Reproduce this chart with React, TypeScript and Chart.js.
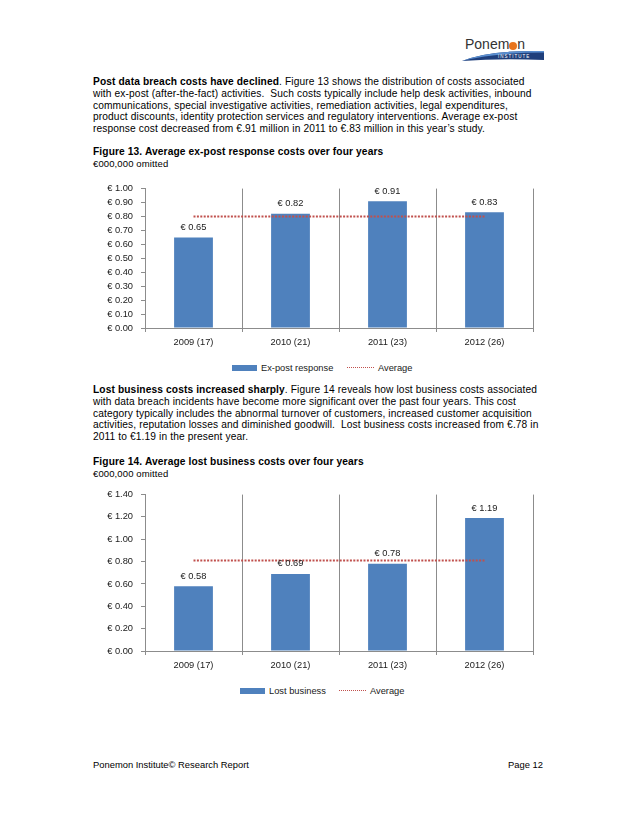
import React, { useEffect, useRef } from "react";
import { Chart, registerables } from "chart.js";

Chart.register(...registerables);

const categories = ["2009 (17)", "2010 (21)", "2011 (23)", "2012 (26)"];
const expostValues = [0.65, 0.82, 0.91, 0.83];
const expostAverage = [0.8, 0.8, 0.8, 0.8];
const lostValues = [0.58, 0.69, 0.78, 1.19];
const lostAverage = [0.81, 0.81, 0.81, 0.81];
const expostAxis = { max: 1.0, step: 0.1 };
const lostAxis = { max: 1.4, step: 0.2 };

const FONT = "'Liberation Sans', Arial, Helvetica, sans-serif";
const BAR = "#4F81BD";
const AVG = "#C0504D";
const GRID = "#8c8c8c";
const TXT = "#1a1a1a";

type ChartProps = {
  top: number;
  height: number;
  padTop: number;
  values: number[];
  average: number[];
  axis: { max: number; step: number };
  label: string;
};

function BarChart({ top, height, padTop, values, average, axis, label }: ChartProps) {
  const ref = useRef<HTMLCanvasElement>(null);
  useEffect(() => {
    if (!ref.current) return;
    const labelPlugin = {
      id: "valueLabels",
      afterDatasetsDraw(chart: any) {
        const ctx = chart.ctx;
        const meta = chart.getDatasetMeta(1);
        ctx.save();
        ctx.font = `9.3px ${FONT}`;
        ctx.fillStyle = TXT;
        ctx.textAlign = "center";
        ctx.textBaseline = "middle";
        meta.data.forEach((el: any, i: number) => {
          const v = chart.data.datasets[1].data[i] as number;
          ctx.fillText("€ " + v.toFixed(2), el.x, el.y - 10);
        });
        ctx.restore();
      },
    };
    const chart = new Chart(ref.current, {
      type: "bar",
      data: {
        labels: categories,
        datasets: [
          {
            type: "line",
            label: "Average",
            data: average,
            borderColor: AVG,
            borderWidth: 2,
            borderDash: [2, 1.4],
            pointRadius: 0,
            fill: false,
            order: 0,
          } as any,
          {
            type: "bar",
            label,
            data: values,
            backgroundColor: BAR,
            barPercentage: 0.4,
            categoryPercentage: 1,
            order: 1,
          },
        ],
      },
      options: {
        animation: false,
        responsive: true,
        maintainAspectRatio: false,
        layout: { padding: { top: padTop, right: 7, left: 0, bottom: 0 } },
        plugins: {
          legend: { display: false },
          tooltip: { enabled: false },
        },
        scales: {
          x: {
            afterFit: (s: any) => {
              s.height = 25;
            },
            grid: {
              display: true,
              drawOnChartArea: true,
              drawTicks: true,
              tickLength: 4,
              offset: true,
              color: GRID,
              lineWidth: 1,
            },
            border: { display: true, color: GRID, width: 1 },
            ticks: {
              color: TXT,
              font: { family: FONT, size: 9.3 },
              padding: 5,
              autoSkip: false,
            },
          },
          y: {
            min: 0,
            max: axis.max,
            afterFit: (s: any) => {
              s.width = 55;
            },
            grid: {
              display: true,
              drawOnChartArea: false,
              drawTicks: true,
              tickLength: 4,
              color: GRID,
            },
            border: { display: true, color: GRID, width: 1 },
            ticks: {
              stepSize: axis.step,
              autoSkip: false,
              color: TXT,
              font: { family: FONT, size: 9.3 },
              padding: 8,
              callback: (v: any) => "€ " + Number(v).toFixed(2),
            },
          },
        },
      },
      plugins: [labelPlugin],
    });
    return () => chart.destroy();
  }, []);
  return (
    <div style={{ position: "absolute", left: 90, top, width: 450, height }}>
      <canvas ref={ref} />
    </div>
  );
}

function Legend({ top, boxLeft, textLeft, dotLeft, avgLeft, label }: any) {
  return (
    <>
      <div style={{ position: "absolute", left: boxLeft, top: top - 3, width: 25, height: 6, background: BAR }} />
      <div style={{ position: "absolute", left: textLeft, top: top - 6, fontSize: 9.3, lineHeight: "12px", color: TXT, whiteSpace: "nowrap" }}>{label}</div>
      <div style={{ position: "absolute", left: dotLeft, top: top - 1, width: 27, height: 0, borderTop: `1.5px dotted ${AVG}` }} />
      <div style={{ position: "absolute", left: avgLeft, top: top - 6, fontSize: 9.3, lineHeight: "12px", color: TXT, whiteSpace: "nowrap" }}>Average</div>
    </>
  );
}

const textStyle: React.CSSProperties = {
  position: "absolute",
  left: 93,
  fontSize: 10.2,
  letterSpacing: "0.12px",
  lineHeight: "11.8px",
  color: "#000",
  whiteSpace: "pre",
};

export default function App() {
  return (
    <div style={{ position: "relative", width: 638, height: 826, fontFamily: FONT, background: "#fff", margin: -8 }}>
      {/* logo */}
      <div style={{ position: "absolute", left: 465, top: 36, fontSize: 14, lineHeight: "16px", color: "#333", whiteSpace: "nowrap" }}>
        Ponem
        <span style={{ color: "#E8741C", display: "inline-block", width: 8, height: 8, borderRadius: 4, background: "#E8741C", verticalAlign: "-1px", overflow: "hidden", fontSize: 1 }}>o</span>
        n
      </div>
      <svg style={{ position: "absolute", left: 460, top: 49 }} width="90" height="14" viewBox="0 0 90 14">
        <path d="M2 12 Q30 1 84 2 L84 11 Q40 9 2 12 Z" fill="#1F3F7C" />
        <path d="M2 12 Q30 1 84 2 L84 3.5 Q35 3.5 2 12 Z" fill="#5B8FD0" />
        <text x="38" y="9.3" fontSize="4.5" fill="#fff" fontFamily={FONT} letterSpacing="1">INSTITUTE</text>
      </svg>

      {/* paragraph 1 */}
      <div style={{ ...textStyle, top: 76 }}>
        <b>Post data breach costs have declined</b>. Figure 13 shows the distribution of costs associated{"\n"}
        with ex-post (after-the-fact) activities.  Such costs typically include help desk activities, inbound{"\n"}
        communications, special investigative activities, remediation activities, legal expenditures,{"\n"}
        product discounts, identity protection services and regulatory interventions. Average ex-post{"\n"}
        response cost decreased from €.91 million in 2011 to €.83 million in this year’s study.
      </div>
      <div style={{ ...textStyle, top: 146, fontWeight: "bold" }}>Figure 13. Average ex-post response costs over four years</div>
      <div style={{ ...textStyle, top: 158, fontSize: 9.5 }}>€000,000 omitted</div>

      <BarChart top={175} height={178} padTop={9} values={expostValues} average={expostAverage} axis={expostAxis} label="Ex-post response" />
      <Legend top={368} boxLeft={232} textLeft={261} dotLeft={347} avgLeft={378} label="Ex-post response" />

      {/* paragraph 2 */}
      <div style={{ ...textStyle, top: 384 }}>
        <b>Lost business costs increased sharply</b>. Figure 14 reveals how lost business costs associated{"\n"}
        with data breach incidents have become more significant over the past four years. This cost{"\n"}
        category typically includes the abnormal turnover of customers, increased customer acquisition{"\n"}
        activities, reputation losses and diminished goodwill.  Lost business costs increased from €.78 in{"\n"}
        2011 to €1.19 in the present year.
      </div>
      <div style={{ ...textStyle, top: 456, fontWeight: "bold" }}>Figure 14. Average lost business costs over four years</div>
      <div style={{ ...textStyle, top: 468, fontSize: 9.5 }}>€000,000 omitted</div>

      <BarChart top={481} height={195} padTop={10} values={lostValues} average={lostAverage} axis={lostAxis} label="Lost business" />
      <Legend top={691} boxLeft={240} textLeft={269} dotLeft={339} avgLeft={370} label="Lost business" />

      {/* footer */}
      <div style={{ position: "absolute", left: 93, top: 759, fontSize: 9.4, lineHeight: "12px", whiteSpace: "nowrap", color: "#000" }}>Ponemon Institute© Research Report</div>
      <div style={{ position: "absolute", right: 95, top: 759, fontSize: 9.4, lineHeight: "12px", whiteSpace: "nowrap", color: "#000" }}>Page 12</div>
    </div>
  );
}
